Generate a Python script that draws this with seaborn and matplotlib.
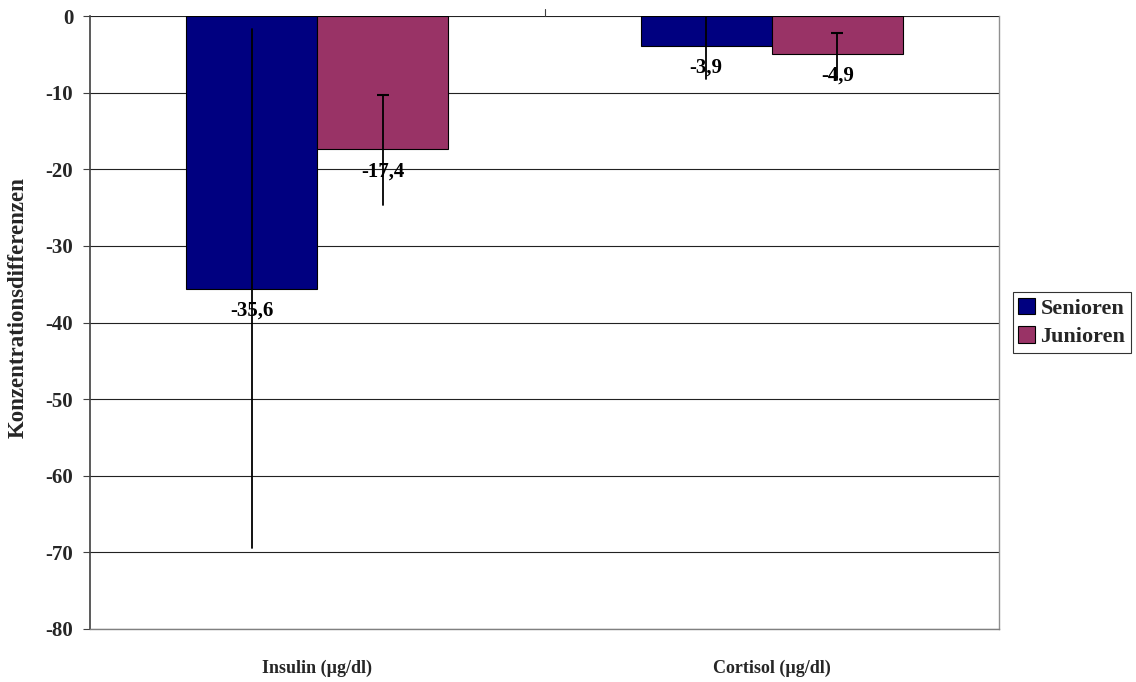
import numpy as np
import pandas as pd
import matplotlib
matplotlib.use("Agg")
import matplotlib.pyplot as plt
import seaborn as sns

# ---- data ----
categories = ["Insulin (µg/dl)", "Cortisol (µg/dl)"]
groups = ["Senioren", "Junioren"]
senioren = [-35.6, -3.9]
junioren = [-17.4, -4.9]
senioren_err_low = [33.85, 4.3]
senioren_err_high = [33.9, 4.3]
junioren_err_low = [7.25, 3.4]
junioren_err_high = [7.15, 2.65]
yticks = [0, -10, -20, -30, -40, -50, -60, -70, -80]

colors = {"Senioren": "#000080", "Junioren": "#993366"}

df = pd.DataFrame({
    "Kategorie": categories * 2,
    "Gruppe": [groups[0]] * 2 + [groups[1]] * 2,
    "Wert": senioren + junioren,
})

sns.set_theme(style="white")
plt.rcParams["font.family"] = ["Liberation Serif", "DejaVu Serif"]
plt.rcParams["font.weight"] = "bold"

fig = plt.figure(figsize=(11.36, 6.82), dpi=100)
ax = fig.add_axes([90 / 1136, 53 / 682, (999 - 90) / 1136, (629 - 16) / 682])

sns.barplot(data=df, x="Kategorie", y="Wert", hue="Gruppe", order=categories,
            hue_order=groups, palette=colors, width=0.577, dodge=True,
            edgecolor="black", linewidth=0.8, errorbar=None, ax=ax, legend=True,
            saturation=1)

ax.set_ylim(-80, 0)
ax.set_xlim(-0.5, 1.5)
ax.set_yticks(yticks)
ax.set_yticklabels([str(t) for t in yticks], fontsize=15, fontweight="bold")
ax.yaxis.grid(True, color="#222222", linewidth=0.8)
ax.set_axisbelow(True)

# error bars and value labels
errs = {"Senioren": (senioren, senioren_err_low, senioren_err_high, False),
        "Junioren": (junioren, junioren_err_low, junioren_err_high, True)}
for cont, g in zip(ax.containers, groups):
    vals, lo, hi, cap = errs[g]
    xs = [p.get_x() + p.get_width() / 2 for p in cont.patches]
    for x, v, l, h in zip(xs, vals, lo, hi):
        ax.plot([x, x], [v - l, v + h], color="black", lw=1.3, zorder=4)
        if cap:
            ax.plot([x], [v + h], marker="_", markersize=8, mew=1.5,
                    color="black", zorder=4)
        ax.annotate(f"{v:.1f}".replace(".", ","), xy=(x, v), xytext=(0, -22),
                    textcoords="offset pixels",
                    ha="center", va="center", fontsize=15, fontweight="bold",
                    color="black", zorder=5)

# axes styling
ax.spines["top"].set_visible(False)
ax.spines["right"].set_color("#909090")
ax.spines["right"].set_linewidth(1.0)
ax.spines["left"].set_color("#404040")
ax.spines["left"].set_linewidth(1.2)
ax.spines["bottom"].set_color("#808080")
ax.spines["bottom"].set_linewidth(1.0)
ax.tick_params(axis="y", direction="out", length=5, width=0.8, color="#404040",
               left=True, pad=7)
ax.tick_params(axis="x", length=0, pad=22, labelsize=13)
for lbl in ax.get_xticklabels():
    lbl.set_fontweight("bold")
ax.set_xlabel("")
ax.set_ylabel("Konzentrationsdifferenzen", fontsize=16.5, fontweight="bold",
              labelpad=10)
ax.yaxis.set_label_coords(-0.068, 0.525)

# small category separator tick on the zero axis
ax.plot([0.5, 0.5], [0, 0.9], color="#404040", lw=0.8, clip_on=False)

leg = ax.legend(loc="center left", bbox_to_anchor=(1.015, 0.5), frameon=True,
                fancybox=False, edgecolor="black", prop={"weight": "bold", "size": 16},
                handlelength=0.75, handleheight=0.75, handletextpad=0.25,
                borderpad=0.25, labelspacing=0.35, borderaxespad=0)
leg.get_frame().set_linewidth(0.8)
for h in leg.legend_handles:
    h.set_edgecolor("black")

fig.savefig("out.png", dpi=100)
